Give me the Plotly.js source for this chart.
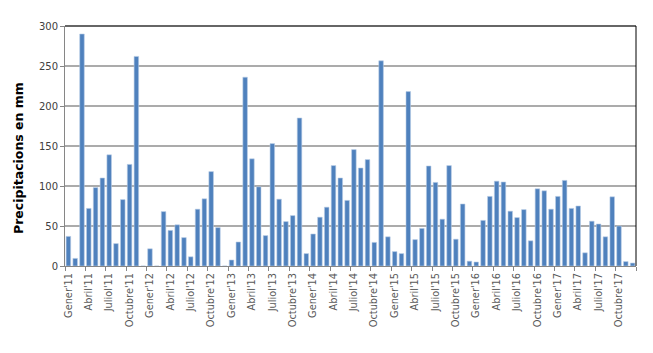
<!DOCTYPE html>
<html><head><meta charset="utf-8">
<script src="https://cdn.plot.ly/plotly-3.0.1.min.js"></script>
<style>html,body{margin:0;padding:0;background:#fff}#chart{width:653px;height:353px}</style>
</head><body><div id="chart"></div>
<script>
const months = ["Gener","Febrer","Març","Abril","Maig","Juny","Juliol","Agost","Setembre","Octubre","Novembre","Desembre"];
const years = ["11","12","13","14","15","16","17"];
const categories = [];
years.forEach(y => months.forEach(m => categories.push(m + "'" + y)));

const precip2011 = [37, 9.5, 290, 72, 98, 110, 139, 28, 83, 127, 262, 0];
const precip2012 = [21.5, 0, 68, 44.5, 51.5, 35.5, 11.5, 71, 84, 118, 48, 0];
const precip2013 = [7.5, 30, 236, 134, 99, 38, 153, 83.5, 55.5, 63, 185, 15.5];
const precip2014 = [40, 61, 73.5, 125.5, 110, 82, 145.5, 122.5, 133, 29.5, 256.5, 36.5];
const precip2015 = [18, 15.5, 218, 33, 47, 125, 104.5, 58.5, 125.5, 33.5, 77.5, 6];
const precip2016 = [5, 57, 87, 106, 105, 68.5, 60.5, 70.5, 31.5, 96.5, 94, 71];
const precip2017 = [87, 107, 72, 75, 16.5, 56, 52.5, 36.5, 86.5, 50, 5.5, 3.7];
const values = [].concat(precip2011, precip2012, precip2013, precip2014, precip2015, precip2016, precip2017);

const tickLabels = categories.filter((c, i) => i % 3 === 0);
const yTicks = [0, 50, 100, 150, 200, 250, 300];

const data = [{
  type: 'bar', x: categories, y: values,
  marker: {color: '#4F81BD', line: {color: '#B9CDE5', width: 0.6}},
  hoverinfo: 'x+y'
}, {
  type: 'bar', x: categories, y: values.map(() => 0), xaxis: 'x2', yaxis: 'y',
  showlegend: false, hoverinfo: 'skip', marker: {color: 'rgba(0,0,0,0)'}
}];

const layout = {
  width: 653, height: 353,
  margin: {l: 65, r: 17, t: 26, b: 87},
  paper_bgcolor: '#fff', plot_bgcolor: '#fff',
  showlegend: false, bargap: 0.33, barmode: 'overlay',
  font: {family: 'DejaVu Sans, Verdana, sans-serif', size: 10, color: '#404040'},
  xaxis: {
    type: 'category', tickmode: 'array', tickvals: tickLabels, ticktext: tickLabels,
    tickangle: -90, tickfont: {size: 9.8, color: '#595959'},
    ticks: '', showline: true, linecolor: '#868686', linewidth: 1,
    showgrid: false, zeroline: false, automargin: false, ticklabelstandoff: 2
  },
  xaxis2: {
    type: 'category', overlaying: 'x', matches: 'x', side: 'bottom',
    showticklabels: false, ticks: 'outside', tickson: 'boundaries', ticklen: 4,
    tickcolor: '#868686', showgrid: false, showline: false, zeroline: false
  },
  yaxis: {
    range: [0, 300], tickmode: 'array', tickvals: yTicks, ticktext: yTicks.map(String),
    showgrid: true, gridcolor: '#ABABAB', gridwidth: 1.5,
    showline: true, linecolor: '#868686', linewidth: 1,
    ticks: 'outside', ticklen: 4, tickcolor: '#868686',
    zeroline: false, tickfont: {size: 10, color: '#404040'}
  },
  annotations: [{
    text: '<b>Precipitacions en mm</b>', xref: 'paper', yref: 'paper',
    x: -65/571 + 18/571, y: 0.45, xanchor: 'center', yanchor: 'middle',
    textangle: -90, showarrow: false,
    font: {size: 12.5, color: '#000', family: 'DejaVu Sans, sans-serif'}
  }],
  shapes: [
    {type: 'line', xref: 'paper', yref: 'paper', x0: 0, x1: 1, y0: 1, y1: 1, line: {color: '#666666', width: 2}},
    {type: 'line', xref: 'paper', yref: 'paper', x0: 1, x1: 1, y0: 0, y1: 1, line: {color: '#000000', width: 1}}
  ]
};
Plotly.newPlot('chart', data, layout, {displayModeBar: false, staticPlot: true});
</script></body></html>
